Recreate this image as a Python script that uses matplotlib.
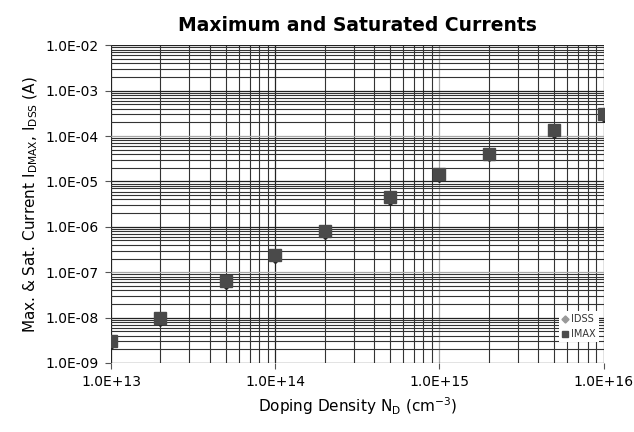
import numpy as np
import matplotlib.pyplot as plt
from matplotlib.ticker import FuncFormatter, LogLocator

doping = [1e13, 2e13, 5e13, 1e14, 2e14, 5e14, 1e15, 2e15, 5e15, 1e16]
imax = [3.0e-9, 1.0e-8, 6.4e-8, 2.4e-7, 8.1e-7, 4.5e-6, 1.45e-5, 4.1e-5, 1.35e-4, 3.1e-4]
idss = [2.7e-9, 0.9e-8, 5.8e-8, 2.2e-7, 7.4e-7, 4.1e-6, 1.32e-5, 3.8e-5, 1.22e-4, 2.8e-4]


def sci(v, pos):
    e = int(np.round(np.log10(v)))
    return f'1.0E{e:+03d}'


fig, ax = plt.subplots(figsize=(6.34, 4.32), dpi=100)
fig.subplots_adjust(left=0.175, right=0.952, top=0.895, bottom=0.16)

ax.set_xscale('log')
ax.set_yscale('log')
ax.set_xlim(1e13, 1e16)
ax.set_ylim(1e-9, 1e-2)

ax.xaxis.set_major_locator(LogLocator(base=10, numticks=10))
ax.yaxis.set_major_locator(LogLocator(base=10, numticks=10))
ax.xaxis.set_minor_locator(LogLocator(base=10, subs=np.arange(2, 10), numticks=10))
ax.yaxis.set_minor_locator(LogLocator(base=10, subs=np.arange(2, 10), numticks=10))
ax.xaxis.set_major_formatter(FuncFormatter(sci))
ax.yaxis.set_major_formatter(FuncFormatter(sci))
ax.xaxis.set_minor_formatter(FuncFormatter(lambda v, p: ''))
ax.yaxis.set_minor_formatter(FuncFormatter(lambda v, p: ''))

ax.grid(True, which='major', color='#222222', linewidth=0.9)
ax.grid(True, which='minor', color='#333333', linewidth=0.8)
# scanned look: some grid lines lighter
for i, gl in enumerate(ax.get_xgridlines() + ax.get_ygridlines()):
    if i % 3 == 1:
        gl.set_color('#a8a8a8')

ax.tick_params(which='major', length=4, color='#555555', labelsize=10, pad=5)
ax.tick_params(which='minor', length=0)
for s in ax.spines.values():
    s.set_visible(False)

ax.plot(doping, idss, linestyle='none', marker='D', markersize=6,
        color='#222222', label='IDSS', zorder=3)
ax.plot(doping, imax, linestyle='none', marker='s', markersize=8,
        color='#4a4a4a', label='IMAX', zorder=4)

leg = ax.legend(loc='lower right', bbox_to_anchor=(1.0, 0.05), fontsize=7,
                frameon=True, fancybox=False, edgecolor='none',
                handlelength=0.6, handletextpad=0.3, borderpad=0.3,
                labelspacing=0.5, markerscale=0.6)
leg.get_frame().set_facecolor('white')
leg.get_frame().set_alpha(1)
leg.legend_handles[0].set_color('#999999')
for t in leg.get_texts():
    t.set_color('#333333')

ax.set_title('Maximum and Saturated Currents', fontsize=13.5, fontweight='bold', pad=10)
ax.set_xlabel(r'Doping Density N$_\mathregular{D}$ (cm$^\mathregular{-3}$)', fontsize=11)
ax.set_ylabel(r'Max. & Sat. Current I$_\mathregular{DMAX}$, I$_\mathregular{DSS}$ (A)', fontsize=11)

plt.savefig('out.png', dpi=100)
